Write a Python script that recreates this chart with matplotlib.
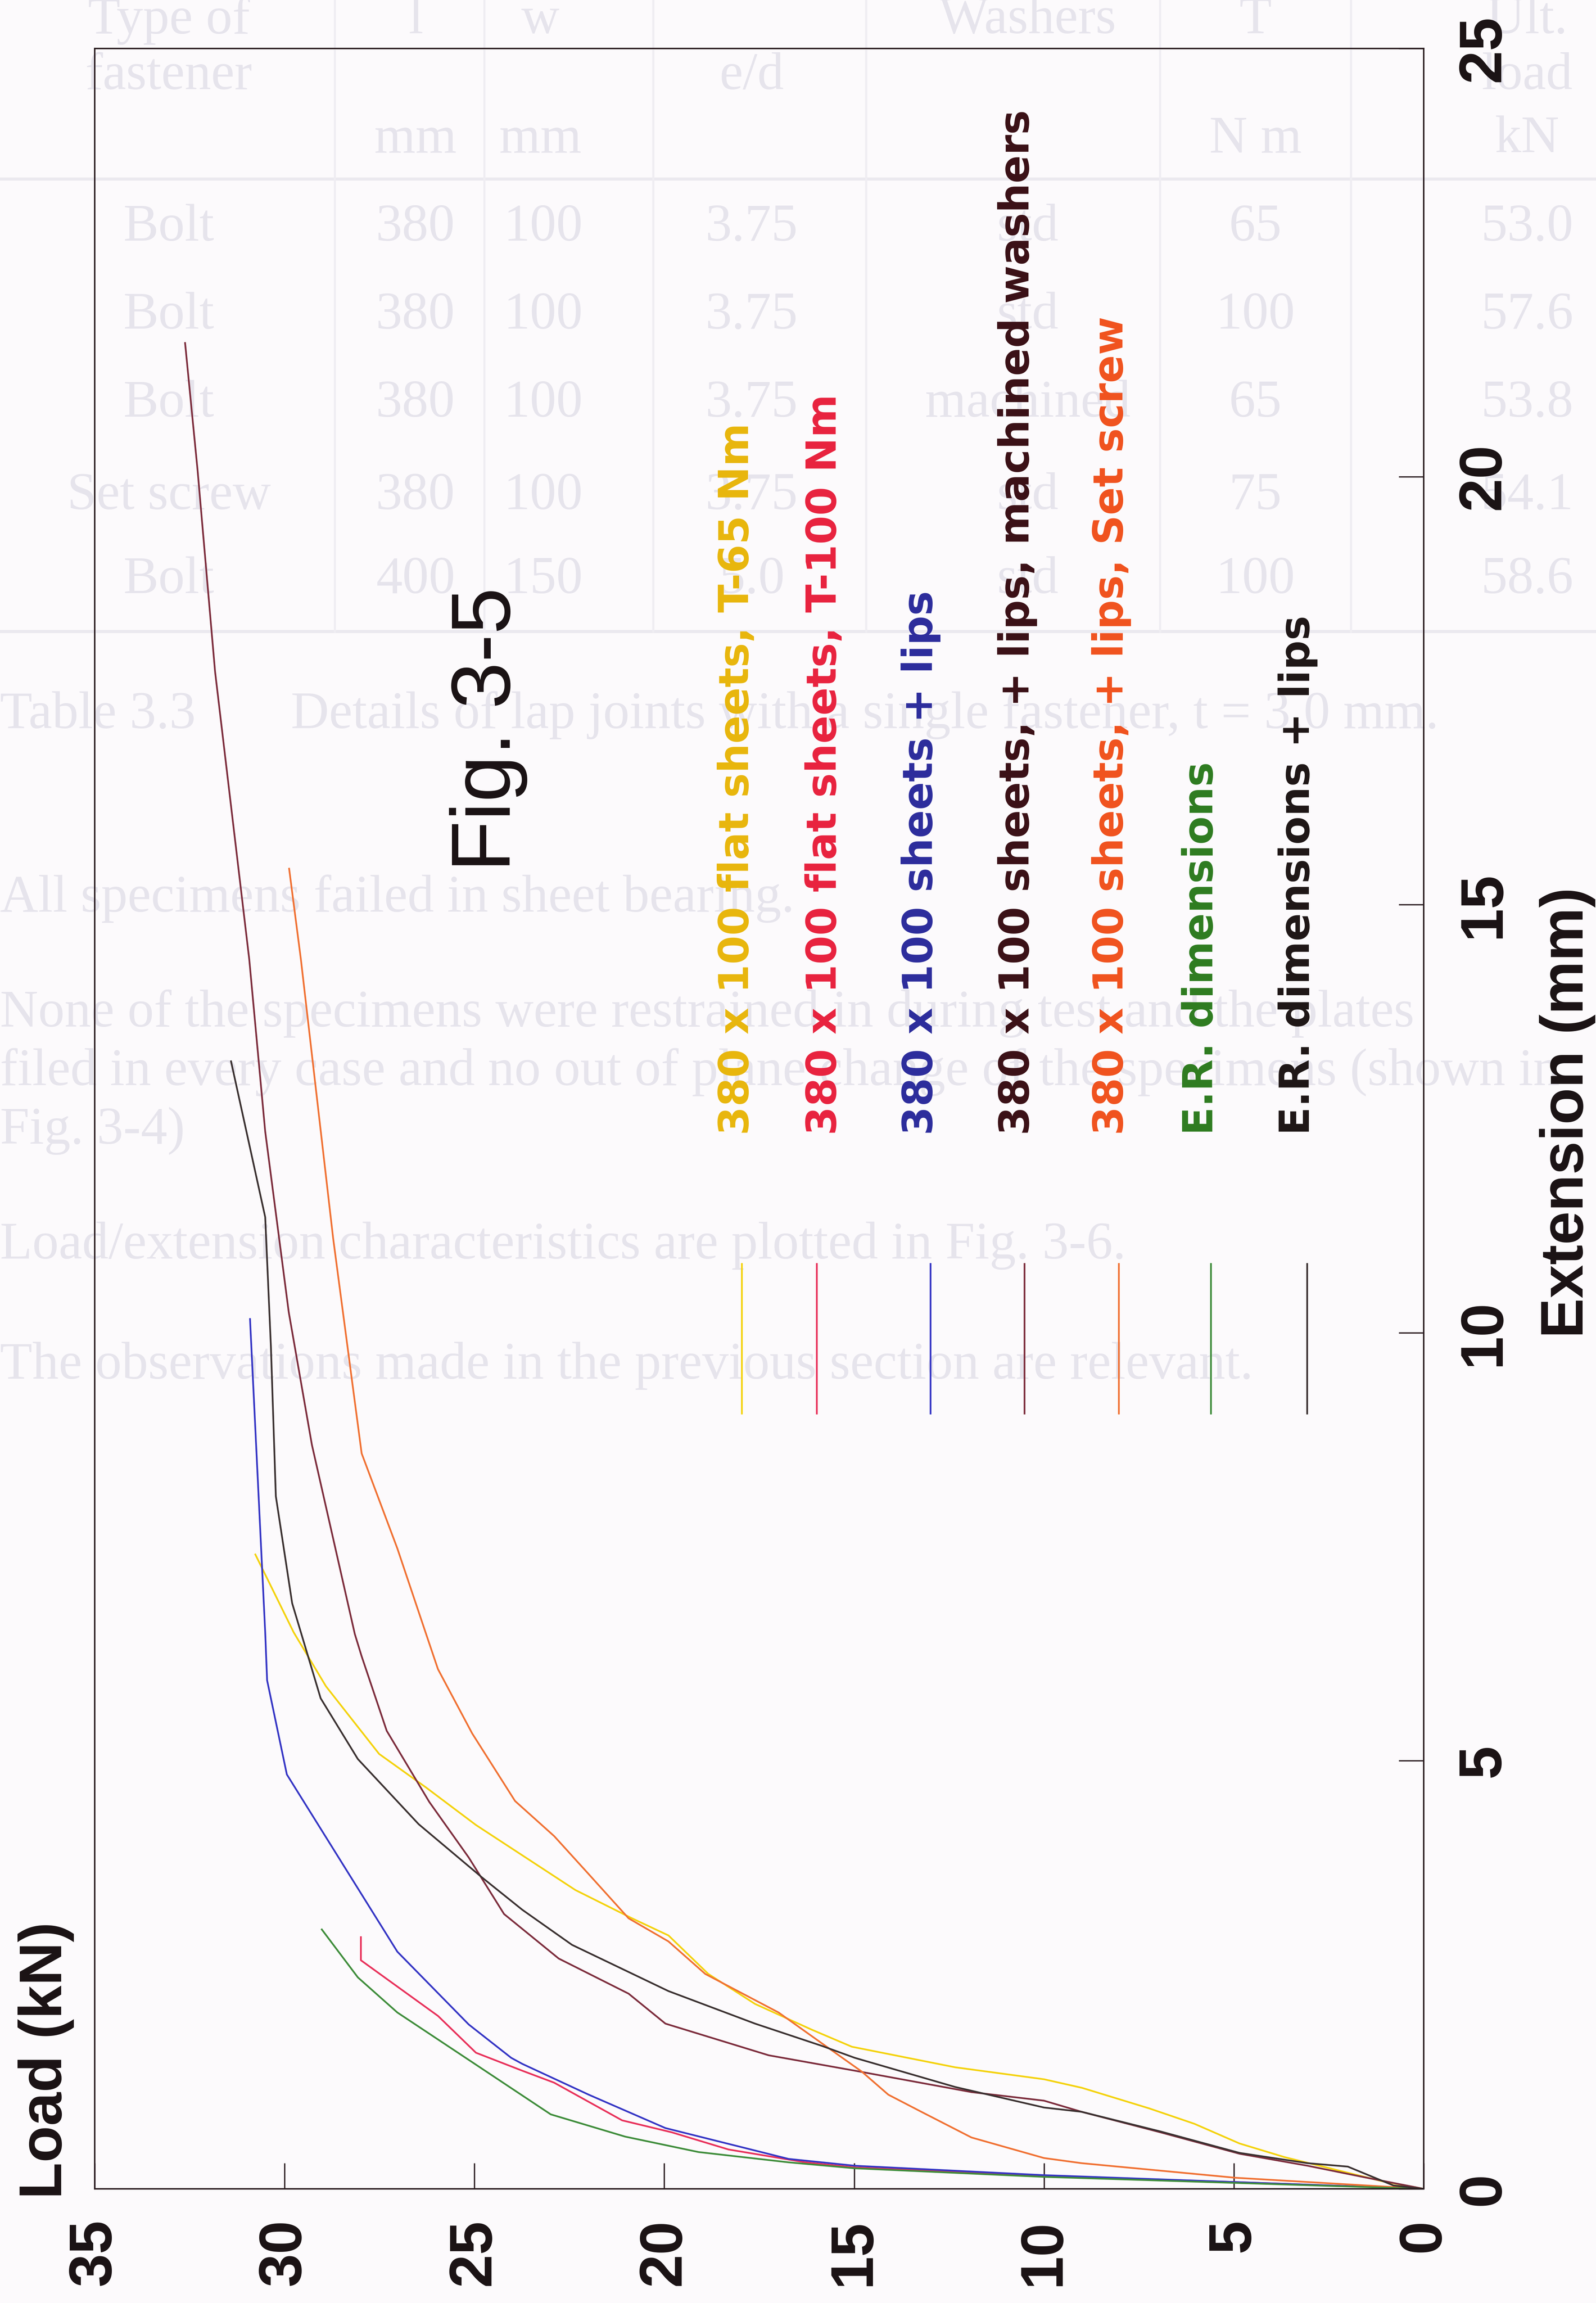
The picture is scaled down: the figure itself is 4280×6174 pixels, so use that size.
import matplotlib
matplotlib.use('Agg')
import matplotlib.pyplot as plt

#%% Data read off Fig. 3-5  (load in kN, extension in mm)

load_ticks = [0, 5, 10, 15, 20, 25, 30, 35]
ext_ticks = [0, 5, 10, 15, 20, 25]

# 380 x 100 flat sheets, T-65 Nm
yellow_load = [0, 1.10, 2.20, 3.66, 4.85, 6.04, 7.23, 9.0, 10.0, 12.34, 15.06, 16.12, 17.61,
               18.84, 19.89, 20.85, 22.34, 24.96, 26.28, 27.51, 28.91, 29.76, 30.77]
yellow_ext = [0, 0.09, 0.21, 0.37, 0.53, 0.76, 0.94, 1.18, 1.28, 1.42, 1.66, 1.86, 2.16,
              2.51, 2.96, 3.16, 3.49, 4.25, 4.69, 5.08, 5.87, 6.50, 7.41]

# 380 x 100 flat sheets, T-100 Nm
red_load = [0, 5.0, 10.0, 14.98, 16.29, 18.31, 19.80, 21.11, 22.90, 23.74, 24.96, 25.96, 27.99, 27.99]
red_ext = [0, 0.08, 0.15, 0.25, 0.31, 0.46, 0.66, 0.80, 1.24, 1.38, 1.59, 2.02, 2.67, 2.94]

# 380 x 100 sheets + lips
blue_load = [0, 5.0, 10.0, 14.98, 16.73, 19.97, 21.99, 23.74, 24.03, 25.15, 27.03, 29.94, 30.46, 30.51, 30.91]
blue_ext = [0, 0.08, 0.16, 0.27, 0.35, 0.71, 1.10, 1.46, 1.53, 1.92, 2.77, 4.84, 5.94, 6.50, 10.16]

# 380 x 100 sheets, + lips, machined washers
maroon_load = [0, 1.5, 3.06, 4.85, 6.93, 9.01, 10.0, 11.91, 14.98, 17.25, 19.97, 20.94, 22.78, 24.22,
               25.15, 26.19, 27.31, 27.97, 28.15, 29.28, 29.89, 30.51, 30.93, 31.83, 32.29, 32.62]
maroon_ext = [0, 0.13, 0.27, 0.41, 0.66, 0.90, 1.03, 1.13, 1.38, 1.56, 1.93, 2.28, 2.69, 3.21,
              3.87, 4.52, 5.35, 6.22, 6.48, 8.69, 10.24, 12.35, 14.36, 17.72, 20.07, 21.56]

# 380 x 100 sheets, + lips, Set screw
orange_load = [0, 4.97, 9.01, 10.0, 11.91, 13.23, 14.10, 14.80, 15.85, 16.99, 18.92, 19.89, 20.94,
               22.06, 22.90, 23.93, 25.06, 25.96, 26.28, 27.03, 27.97, 28.72, 29.57, 29.88]
orange_ext = [0, 0.13, 0.30, 0.36, 0.60, 0.90, 1.10, 1.37, 1.70, 2.06, 2.51, 2.89, 3.16,
              3.71, 4.12, 4.53, 5.32, 6.07, 6.49, 7.48, 8.59, 11.10, 14.36, 15.42]

# E.R. dimensions
green_load = [0, 5.0, 10.0, 14.98, 16.73, 19.10, 21.03, 22.99, 25.06, 27.03, 28.07, 29.02]
green_ext = [0, 0.07, 0.14, 0.24, 0.31, 0.43, 0.61, 0.87, 1.48, 2.06, 2.47, 3.03]

# E.R. dimensions + lips
black_load = [0, 0.8, 2.0, 3.06, 4.85, 6.93, 9.01, 10.0, 12.34, 14.98, 15.85, 17.61, 19.89, 22.43,
              23.74, 24.78, 26.47, 28.07, 29.05, 29.57, 29.80, 30.23, 30.36, 30.51, 31.41]
black_ext = [0, 0.04, 0.26, 0.30, 0.42, 0.67, 0.90, 0.95, 1.19, 1.53, 1.67, 1.93, 2.31, 2.85,
             3.26, 3.63, 4.26, 5.02, 5.73, 6.50, 6.84, 8.09, 9.84, 11.35, 13.17]

series_load = [yellow_load, red_load, blue_load, maroon_load, orange_load, green_load, black_load]
series_ext = [yellow_ext, red_ext, blue_ext, maroon_ext, orange_ext, green_ext, black_ext]

labels = ['380 x 100 flat sheets, T-65 Nm',
          '380 x 100 flat sheets, T-100 Nm',
          '380 x 100 sheets + lips',
          '380 x 100 sheets, + lips, machined washers',
          '380 x 100 sheets, + lips, Set screw',
          'E.R. dimensions',
          'E.R. dimensions + lips']

line_colours = ['#f4d20c', '#e8305a', '#3434c4', '#7c2c3c', '#f07032', '#3e8c3a', '#3a3030']
text_colours = ['#e8b60c', '#e8223e', '#2c2c9c', '#3a1016', '#f0521e', '#2e7c20', '#1e1616']

#%% Figure set-up (the page is scanned on its side, so everything is turned 90 deg)

W, H = 4280, 6174
fig = plt.figure(figsize=(W / 100, H / 100), dpi=100, facecolor='#fcfafc')

def fx(px):  # pixel column -> figure fraction
    return px / W

def fy(py):  # pixel row -> figure fraction
    return 1 - py / H

# faint print-through of the other side of the page
ghost = '#e6e4ec'
ghost_font = dict(family='Liberation Serif', fontsize=102, color=ghost, zorder=-1)
ghost_items = [
    (115, 14, 'Type of', 'center'), (115, 52, 'fastener', 'center'),
    (283, 14, 'l', 'center'), (368, 14, 'w', 'center'),
    (283, 95, 'mm', 'center'), (368, 95, 'mm', 'center'),
    (512, 52, 'e/d', 'center'), (700, 14, 'Washers', 'center'),
    (855, 14, 'T', 'center'), (855, 95, 'N m', 'center'),
    (1040, 14, 'Ult.', 'center'), (1040, 52, 'load', 'center'), (1040, 95, 'kN', 'center'),
    (0, 487, 'Table 3.3', 'left'),
    (198, 487, 'Details of lap joints with a single fastener, t = 3.0 mm.', 'left'),
    (0, 612, 'All specimens failed in sheet bearing.', 'left'),
    (0, 690, 'None of the specimens were restrained in during test and the plates', 'left'),
    (0, 730, 'filed in every case and no out of plane change of the specimens (shown in', 'left'),
    (0, 770, 'Fig. 3-4)', 'left'),
    (0, 848, 'Load/extension characteristics are plotted in Fig. 3-6.', 'left'),
    (0, 930, 'The observations made in the previous section are relevant.', 'left'),
]
rows = [('Bolt', '380', '100', '3.75', 'std', '65', '53.0'),
        ('Bolt', '380', '100', '3.75', 'std', '100', '57.6'),
        ('Bolt', '380', '100', '3.75', 'machined', '65', '53.8'),
        ('Set screw', '380', '100', '3.75', 'std', '75', '54.1'),
        ('Bolt', '400', '150', '5.0', 'std', '100', '58.6')]
row_y = [155, 215, 275, 338, 395]
col_x = [115, 283, 370, 512, 700, 855, 1040]
k = H / 1568.0
for tx, ty, s, ha in ghost_items:
    fig.text(fx(tx * k), fy(ty * k), s, ha=ha, va='center', **ghost_font)
for ry, row in zip(row_y, rows):
    for cx, s in zip(col_x, row):
        fig.text(fx(cx * k), fy(ry * k), s, ha='center', va='center', **ghost_font)
for gy in [122, 430]:
    fig.add_artist(plt.Line2D([0, 1], [fy(gy * k)] * 2, color='#ebe9ef', lw=6, zorder=-1))
for gx in [228, 330, 445, 590, 790, 920]:
    fig.add_artist(plt.Line2D([fx(gx * k)] * 2, [fy(0), fy(430 * k)], color='#efedf2', lw=4, zorder=-1))

#%% The chart itself: x = load (reversed), y = extension

ax = fig.add_axes([fx(254), fy(5868), fx(3818) - fx(254), fy(130) - fy(5868)])
ax.set_facecolor('none')
ax.set_xlim(35, 0)
ax.set_ylim(0, 25)

for load, ext, col in zip(series_load, series_ext, line_colours):
    ax.plot(load, ext, color=col, lw=3.3, solid_joinstyle='round')

for sp in ax.spines.values():
    sp.set_linewidth(2.8)
    sp.set_color('#2a1c20')

tick_font = dict(family='Liberation Sans', fontsize=116, fontweight='bold', color='#1a1214')
ax.set_xticks(load_ticks)
ax.set_xticklabels([str(t) for t in load_ticks], rotation=90, **tick_font)
ax.yaxis.tick_right()
ax.set_yticks(ext_ticks)
ax.set_yticklabels([str(t) for t in ext_ticks], rotation=90, **tick_font)
plt.setp(ax.get_yticklabels(), va='center', ha='left')
ax.tick_params(axis='x', direction='in', length=50, width=2.5, pad=58, color='#2a1c20',
               top=False, bottom=True)
ax.tick_params(axis='y', direction='in', length=48, width=2.5, pad=62, color='#2a1c20',
               left=False, right=True)

# axis titles
lab_font = dict(family='Liberation Sans', fontsize=116, fontweight='bold', color='#1a1214',
                rotation=90, rotation_mode='anchor', ha='left', va='baseline')
fig.text(fx(165), fy(5895), 'Load (kN)', **lab_font)
fig.text(fx(4245), fy(3587), 'Extension (mm)', **lab_font)

fig.text(fx(1368), fy(2337), 'Fig. 3-5', family='Liberation Sans', fontsize=162, color='#1a1214',
         rotation=90, rotation_mode='anchor', ha='left', va='baseline')

#%% hand drawn legend (rotated too)
leg_line_x = [1989, 2190, 2495, 2747, 3000, 3247, 3505]
leg_text_x = [2007, 2242, 2500, 2759, 3011, 3252, 3511]
for lx, tx, lab, lc, tc in zip(leg_line_x, leg_text_x, labels, line_colours, text_colours):
    fig.add_artist(plt.Line2D([fx(lx)] * 2, [fy(3388), fy(3789)], color=lc, lw=3.3))
    fig.text(fx(tx), fy(3043), lab, family='DejaVu Sans', fontsize=80, fontweight='bold',
             color=tc, rotation=90, rotation_mode='anchor', ha='left', va='baseline')

plt.savefig('out.png', dpi=100, facecolor=fig.get_facecolor())
